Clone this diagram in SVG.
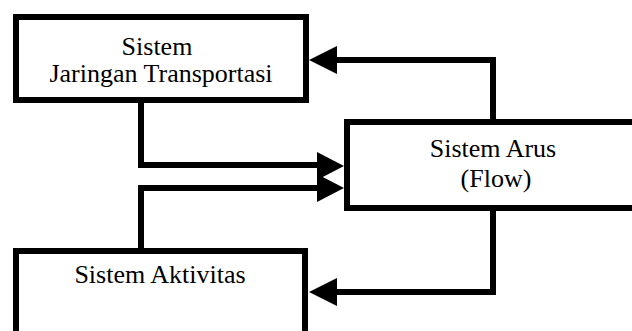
<svg xmlns="http://www.w3.org/2000/svg" width="632" height="331" viewBox="0 0 632 331">
<style>
.box{fill:#fff;stroke:#000;stroke-width:6}
.ln{fill:none;stroke:#000;stroke-width:6;stroke-linejoin:miter}
.ah{fill:#000}
text{font-family:"Liberation Serif","Times New Roman",serif;font-size:26px;fill:#000;text-anchor:middle}
</style>
<rect width="632" height="331" fill="#fff"/>
<g id="connectors">
<path class="ln" d="M493,122 V60 H336"/>
<path class="ah" d="M309,60 L337,46 L337,74 Z"/>
<path class="ln" d="M141,103 V165 H318"/>
<path class="ah" d="M344,166 L317,152 L317,180 Z"/>
<path class="ln" d="M141,248 V188 H318"/>
<path class="ah" d="M344,188 L317,174 L317,202 Z"/>
<path class="ln" d="M493,209 V292 H335"/>
<path class="ah" d="M309,292 L337,278 L337,306 Z"/>
</g>
<g id="node-jaringan">
<rect class="box" x="16" y="17" width="290" height="83"/>
<text x="157" y="55">Sistem</text>
<text x="161" y="82">Jaringan Transportasi</text>
</g>
<g id="node-arus">
<rect class="box" x="347" y="122" width="292" height="86"/>
<text x="493" y="157">Sistem Arus</text>
<text x="496" y="187">(Flow)</text>
</g>
<g id="node-aktivitas">
<rect class="box" x="16" y="251" width="289" height="100"/>
<text x="160" y="283">Sistem Aktivitas</text>
</g>
</svg>
